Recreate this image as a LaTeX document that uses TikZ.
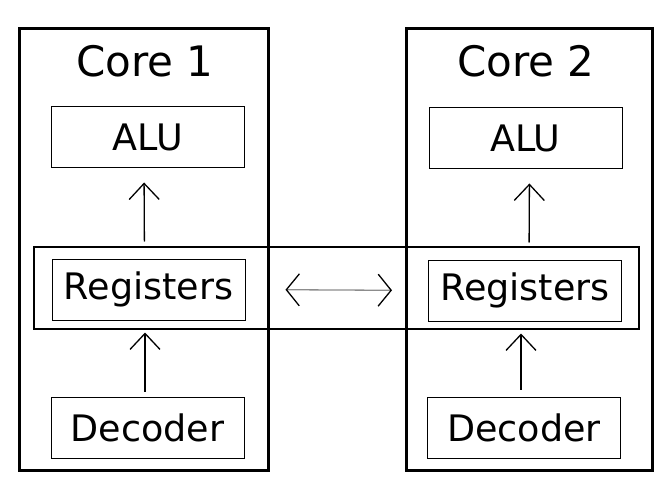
\documentclass[tikz,border=0pt]{standalone}
\usepackage{fontspec}
\setmainfont{DejaVu Sans}
\usepackage{tikz}
\usetikzlibrary{arrows.meta,calc,positioning}
\definecolor{linkgray}{RGB}{140,140,140}

\begin{document}
\begin{tikzpicture}[x=1pt, y=-1pt,
    corebox/.style={draw, line width=3pt, minimum width=246pt, minimum height=441pt, inner sep=0pt},
    unitbox/.style={draw, line width=1pt, minimum width=193pt, minimum height=61pt, inner sep=0pt, font=\fontsize{36.5}{40}\selectfont},
    title/.style={anchor=base, inner sep=0pt, font=\fontsize{42}{46}\selectfont},
    flow/.style={line width=1.3pt, -{Straight Barb[length=16pt, width=30pt, line width=1.3pt]}},
    link/.style={line width=1.3pt, linkgray, {Straight Barb[length=13pt, width=32pt, line width=1.3pt, color=black]}-{Straight Barb[length=13pt, width=32pt, line width=1.3pt, color=black]}}]
  \useasboundingbox (0,0) rectangle (670,492);
  % ---------------- CORE 1 ----------------
  \node[corebox, minimum width=249pt] (core1) at (143.5,249.5) {};
  \node[title] (title1) at (145,77) {Core 1};
  \node[unitbox] (alu1) at (148,137.5) {ALU};
  \node[unitbox] (reg1) at (148.5,289.5) {Registers};
  \node[unitbox] (dec1) at (147.5,427.5) {Decoder};
  % ---------------- CORE 2 ----------------
  \node[corebox] (core2) at (529,249.5) {};
  \node[title] (title2) at (526,77) {Core 2};
  \node[unitbox] (alu2) at (525.5,138.5) {ALU};
  \node[unitbox] (reg2) at (525,290.5) {Registers};
  \node[unitbox] (dec2) at (524,427.5) {Decoder};
  % shared register file
  \node[draw, line width=2pt, minimum width=605pt, minimum height=82pt, inner sep=0pt] (regs) at (336.5,288) {};
  % ---------------- ARROWS ----------------
  \draw[flow, shorten <=17pt, shorten >=14pt] ([xshift=-4pt]reg1.north) -- ([xshift=-4pt]alu1.south);
  \draw[flow, shorten <=17pt, shorten >=14pt] ([xshift=4pt]reg2.north) -- ([xshift=4pt]alu2.south);
  \draw[flow, shorten <=5pt, shorten >=12pt] ([xshift=-2.5pt]dec1.north) -- ([xshift=-2.5pt]dec1.north |- reg1.south);
  \draw[flow, shorten <=7pt, shorten >=12pt] ([xshift=-3pt]dec2.north) -- ([xshift=-3pt]dec2.north |- reg2.south);
  \draw[link, shorten <=40pt, shorten >=36pt] (reg1.east) -- (reg2.west);
\end{tikzpicture}
\end{document}
